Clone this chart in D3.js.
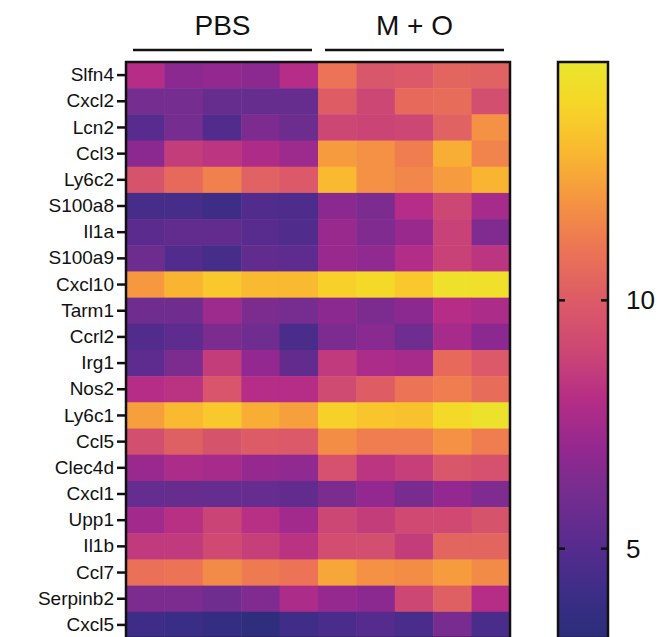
<!DOCTYPE html>
<html>
<head>
<meta charset="utf-8">
<script src="https://cdn.jsdelivr.net/npm/d3@7"></script>
<style>
  body { margin: 0; background: #fff; }
  svg { display: block; font-family: "Liberation Sans", Arial, Helvetica, sans-serif; }
</style>
</head>
<body>
<svg width="660" height="637"></svg>
<script>
const width = 660, height = 637;

// genes (rows), top to bottom
const genes = ["Slfn4", "Cxcl2", "Lcn2", "Ccl3", "Ly6c2", "S100a8", "Il1a", "S100a9",
    "Cxcl10", "Tarm1", "Ccrl2", "Irg1", "Nos2", "Ly6c1", "Ccl5", "Clec4d", "Cxcl1",
    "Upp1", "Il1b", "Ccl7", "Serpinb2", "Cxcl5"];

// groups and samples (columns)
const groups = ["PBS", "M + O"];
const samples = ["PBS1", "PBS2", "PBS3", "PBS4", "PBS5", "MO1", "MO2", "MO3", "MO4", "MO5"];

// expression values, one array per gene, 5 PBS then 5 M + O
const pbs = [
    [8.0, 6.8, 7.0, 6.8, 8.0],
    [6.1, 6.1, 5.6, 5.6, 5.6],
    [5.1, 6.1, 4.9, 6.3, 5.8],
    [6.8, 8.6, 8.3, 7.8, 7.3],
    [9.6, 10.6, 11.4, 10.3, 9.9],
    [4.4, 4.4, 4.1, 4.9, 4.7],
    [5.2, 5.4, 5.4, 5.1, 4.8],
    [5.8, 4.9, 4.4, 5.4, 5.3],
    [12.1, 12.9, 13.5, 13.0, 13.0],
    [5.9, 5.9, 7.3, 6.3, 6.1],
    [4.9, 5.3, 6.3, 5.9, 4.6],
    [5.3, 6.3, 8.6, 7.0, 5.4],
    [8.0, 8.2, 9.7, 8.0, 8.0],
    [12.3, 13.0, 13.5, 12.7, 12.3],
    [9.4, 10.2, 9.6, 10.0, 9.9],
    [7.2, 7.7, 7.6, 7.1, 6.9],
    [5.5, 5.6, 5.5, 5.5, 5.4],
    [7.4, 8.1, 8.9, 8.1, 7.4],
    [8.5, 8.5, 9.1, 8.7, 8.2],
    [10.9, 11.0, 11.7, 11.2, 11.0],
    [6.3, 6.3, 5.9, 6.4, 7.7],
    [4.1, 4.0, 3.7, 3.4, 4.2]
];
const mo = [
    [11.0, 9.8, 9.9, 10.4, 10.3],
    [10.1, 9.0, 10.6, 10.7, 9.4],
    [9.0, 8.9, 9.0, 10.3, 11.9],
    [12.2, 11.9, 11.3, 12.7, 11.5],
    [13.0, 11.9, 11.6, 12.2, 12.9],
    [6.8, 6.3, 8.0, 9.0, 7.6],
    [7.2, 6.4, 7.2, 8.8, 6.4],
    [7.2, 6.9, 7.9, 8.8, 8.3],
    [13.8, 14.1, 13.5, 14.5, 14.4],
    [6.8, 6.3, 6.8, 8.0, 7.7],
    [6.3, 6.7, 5.9, 7.6, 6.8],
    [8.5, 7.7, 7.6, 10.6, 9.9],
    [9.2, 10.1, 11.0, 11.3, 10.7],
    [13.8, 13.4, 13.3, 14.1, 14.6],
    [11.8, 11.3, 11.3, 11.9, 11.3],
    [9.5, 8.3, 8.7, 9.8, 9.5],
    [6.3, 7.0, 6.2, 7.0, 6.4],
    [9.0, 8.6, 9.1, 9.1, 9.6],
    [9.3, 9.4, 8.6, 10.4, 10.4],
    [12.5, 11.9, 11.8, 12.2, 11.7],
    [7.1, 6.8, 9.0, 10.2, 8.0],
    [4.6, 5.0, 4.5, 6.2, 4.6]
];

// colour bar
const colorTicks = [5, 10];
const colorDomain = [3.2, 14.8];
const stopValues = [3.2, 4, 5, 6, 7, 8, 9, 10, 11, 12, 13, 14, 14.8];
const stopColors = ["#2b2e7a", "#3a2d85", "#552c8e", "#722d8f", "#932890", "#b52d86",
    "#cd4774", "#dc5b67", "#ec7355", "#f59442", "#f9b930", "#f6d728", "#e9e62d"];

const cells = [];
genes.forEach((g, i) => {
    pbs[i].concat(mo[i]).forEach((v, j) => cells.push({ gene: g, sample: samples[j], value: v }));
});

const svg = d3.select("svg");

const x = d3.scaleBand().domain(samples).range([126, 510]);
const y = d3.scaleBand().domain(genes).range([62, 638]);
const color = d3.scaleLinear().domain(stopValues).range(stopColors).clamp(true);

// cells
svg.append("g")
    .selectAll("rect")
    .data(cells)
    .enter().append("rect")
    .attr("x", d => x(d.sample))
    .attr("y", d => y(d.gene))
    .attr("width", x.bandwidth() + 0.5)
    .attr("height", y.bandwidth() + 0.5)
    .attr("fill", d => color(d.value));

// frame
svg.append("rect")
    .attr("x", 126).attr("y", 62)
    .attr("width", 384).attr("height", 576)
    .attr("fill", "none")
    .attr("stroke", "#111")
    .attr("stroke-width", 2.5);

// row axis
const yAxis = svg.append("g")
    .attr("transform", "translate(125,0)")
    .call(d3.axisLeft(y).tickSize(8).tickPadding(3));
yAxis.select(".domain").remove();
yAxis.selectAll(".tick line").attr("stroke", "#111").attr("stroke-width", 2.5);
yAxis.selectAll(".tick text")
    .attr("fill", "#111")
    .attr("font-size", 19)
    .attr("font-family", "Liberation Sans, Arial, sans-serif");

// group headers
groups.forEach((g, k) => {
    const s = samples.slice(k * 5, k * 5 + 5);
    const x0 = x(s[0]) + 7, x1 = x(s[4]) + x.bandwidth() - 6;
    svg.append("line")
        .attr("x1", x0).attr("x2", x1)
        .attr("y1", 50).attr("y2", 50)
        .attr("stroke", "#111")
        .attr("stroke-width", 2.5);
    svg.append("text")
        .attr("x", (x0 + x1) / 2)
        .attr("y", 35)
        .attr("text-anchor", "middle")
        .attr("font-size", 28)
        .attr("fill", "#111")
        .text(g);
});

// colour bar
const cb = { x: 558, w: 50, top: 62, bottom: 638 };
const cy = d3.scaleLinear().domain(colorDomain).range([cb.bottom, cb.top]);

const defs = svg.append("defs");
const grad = defs.append("linearGradient")
    .attr("id", "cbar")
    .attr("x1", 0).attr("x2", 0).attr("y1", 1).attr("y2", 0);
grad.selectAll("stop")
    .data(stopValues)
    .enter().append("stop")
    .attr("offset", d => (d - colorDomain[0]) / (colorDomain[1] - colorDomain[0]))
    .attr("stop-color", d => color(d));

svg.append("rect")
    .attr("x", cb.x).attr("y", cb.top)
    .attr("width", cb.w).attr("height", cb.bottom - cb.top)
    .attr("fill", "url(#cbar)")
    .attr("stroke", "#111")
    .attr("stroke-width", 2.5);

const cticks = svg.append("g").selectAll("g")
    .data(colorTicks)
    .enter().append("g")
    .attr("transform", d => `translate(0,${cy(d)})`);
cticks.append("line")
    .attr("x1", cb.x).attr("x2", cb.x + 7)
    .attr("stroke", "#111").attr("stroke-width", 2.5);
cticks.append("line")
    .attr("x1", cb.x + cb.w - 7).attr("x2", cb.x + cb.w)
    .attr("stroke", "#111").attr("stroke-width", 2.5);
cticks.append("text")
    .attr("x", cb.x + cb.w + 18)
    .attr("dy", "0.35em")
    .attr("font-size", 26)
    .attr("fill", "#111")
    .text(d => d);
</script>
</body>
</html>
